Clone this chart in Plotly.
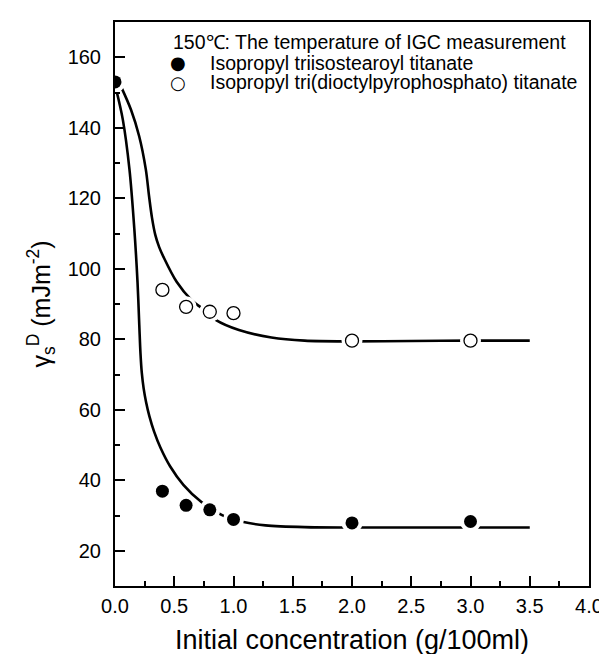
import plotly.graph_objects as go

# measured points
conc = [0.0, 0.4, 0.6, 0.8, 1.0, 2.0, 3.0]
gamma_stearoyl = [153.0, 36.9, 32.9, 31.6, 28.9, 27.9, 28.3]

conc_pyro = [0.4, 0.6, 0.8, 1.0, 2.0, 3.0]
gamma_pyro = [94.0, 89.2, 87.8, 87.4, 79.6, 79.6]

# fitted curves
curve_x_stearoyl = [0.011, 0.066, 0.122, 0.163, 0.19, 0.205, 0.215, 0.226, 0.242, 0.262, 0.29,
                    0.33, 0.383, 0.466, 0.577, 0.729, 0.853, 0.936, 1.074, 1.27, 1.6, 2.0,
                    2.5, 3.0, 3.5]
curve_y_stearoyl = [150.7, 142.3, 128.2, 111.3, 96.2, 84.0, 76.0, 70.5, 66.0, 62.2, 58.2,
                    53.8, 49.3, 43.9, 38.7, 33.8, 31.0, 29.6, 28.2, 27.2, 26.7, 26.6,
                    26.6, 26.6, 26.6]

curve_x_pyro = [0.052, 0.135, 0.204, 0.26, 0.287, 0.312, 0.34, 0.372, 0.41, 0.52, 0.646, 0.729,
                0.853, 1.046, 1.32, 1.6, 2.0, 2.5, 3.0, 3.5]
curve_y_pyro = [151.6, 145.1, 137.6, 128.2, 120.7, 114.5, 109.6, 106.2, 103.3, 96.3, 91.1, 88.9,
                85.4, 82.6, 80.5, 79.6, 79.4, 79.5, 79.6, 79.6]

legend_title = '150\u2103: The temperature of IGC measurement'
legend_names = ['Isopropyl triisostearoyl titanate',
                'Isopropyl tri(dioctylpyrophosphato) titanate']
legend_symbols = ['\u25cf', '\u25cb']

FONT = 'Liberation Sans, Arial, sans-serif'

fig = go.Figure()

for cx, cy in [(curve_x_stearoyl, curve_y_stearoyl), (curve_x_pyro, curve_y_pyro)]:
    fig.add_trace(go.Scatter(
        x=cx, y=cy, mode='lines',
        line=dict(color='black', width=2.6, shape='spline', smoothing=0.9),
        showlegend=False, hoverinfo='skip'
    ))

# white halo so the curves break around the markers
fig.add_trace(go.Scatter(
    x=conc + conc_pyro, y=gamma_stearoyl + gamma_pyro, mode='markers',
    marker=dict(symbol='circle', size=21, color='white'),
    showlegend=False, hoverinfo='skip'
))

fig.add_trace(go.Scatter(
    x=conc, y=gamma_stearoyl, mode='markers',
    name=legend_names[0], showlegend=False,
    marker=dict(symbol='circle', size=13, color='black')
))
fig.add_trace(go.Scatter(
    x=conc_pyro, y=gamma_pyro, mode='markers',
    name=legend_names[1], showlegend=False,
    marker=dict(symbol='circle', size=13, color='white',
                line=dict(color='black', width=1.3))
))

# legend block drawn as text
leg_font = dict(family=FONT, size=19.5, color='black')
fig.add_annotation(text=legend_title, x=0.118, y=0.964, xref='paper', yref='paper',
                   xanchor='left', yanchor='middle', showarrow=False, font=leg_font)
for i, (sym, name) in enumerate(zip(legend_symbols, legend_names)):
    yy = 0.928 - i * 0.035
    fig.add_annotation(text=sym, x=0.132, y=yy, xref='paper', yref='paper',
                       xanchor='center', yanchor='middle', showarrow=False,
                       font=dict(family='DejaVu Sans', size=18, color='black'))
    fig.add_annotation(text=name, x=0.197, y=yy, xref='paper', yref='paper',
                       xanchor='left', yanchor='middle', showarrow=False, font=leg_font)

fig.update_layout(
    width=607, height=654,
    margin=dict(l=107, r=16, t=13, b=74),
    plot_bgcolor='white', paper_bgcolor='white',
    font=dict(family=FONT, size=20, color='black'),
    showlegend=False,
    xaxis=dict(
        range=[0, 4], dtick=0.5, tickformat='.1f',
        ticks='inside', ticklen=10, tickwidth=1.5, tickcolor='black',
        minor=dict(ticks='inside', ticklen=5, dtick=0.25, tickcolor='black', tickwidth=1.5),
        showline=True, linecolor='black', linewidth=2, mirror=True,
        showgrid=False, zeroline=False,
        ticklabelstandoff=1,
        title=dict(text='Initial concentration (g/100ml)', standoff=14,
                   font=dict(family=FONT, size=27))
    ),
    yaxis=dict(
        range=[10, 170], dtick=20, tick0=0,
        ticks='inside', ticklen=10, tickwidth=1.5, tickcolor='black',
        minor=dict(ticks='inside', ticklen=5, dtick=10, tickcolor='black', tickwidth=1.5),
        showline=True, linecolor='black', linewidth=2, mirror=True,
        showgrid=False, zeroline=False,
        ticklabelstandoff=8,
        title=dict(text='\u03b3<sub>s</sub><sup>D</sup> (mJm<sup>-2</sup>)', standoff=10,
                   font=dict(family=FONT, size=25))
    )
)

fig.write_html("out.html")
